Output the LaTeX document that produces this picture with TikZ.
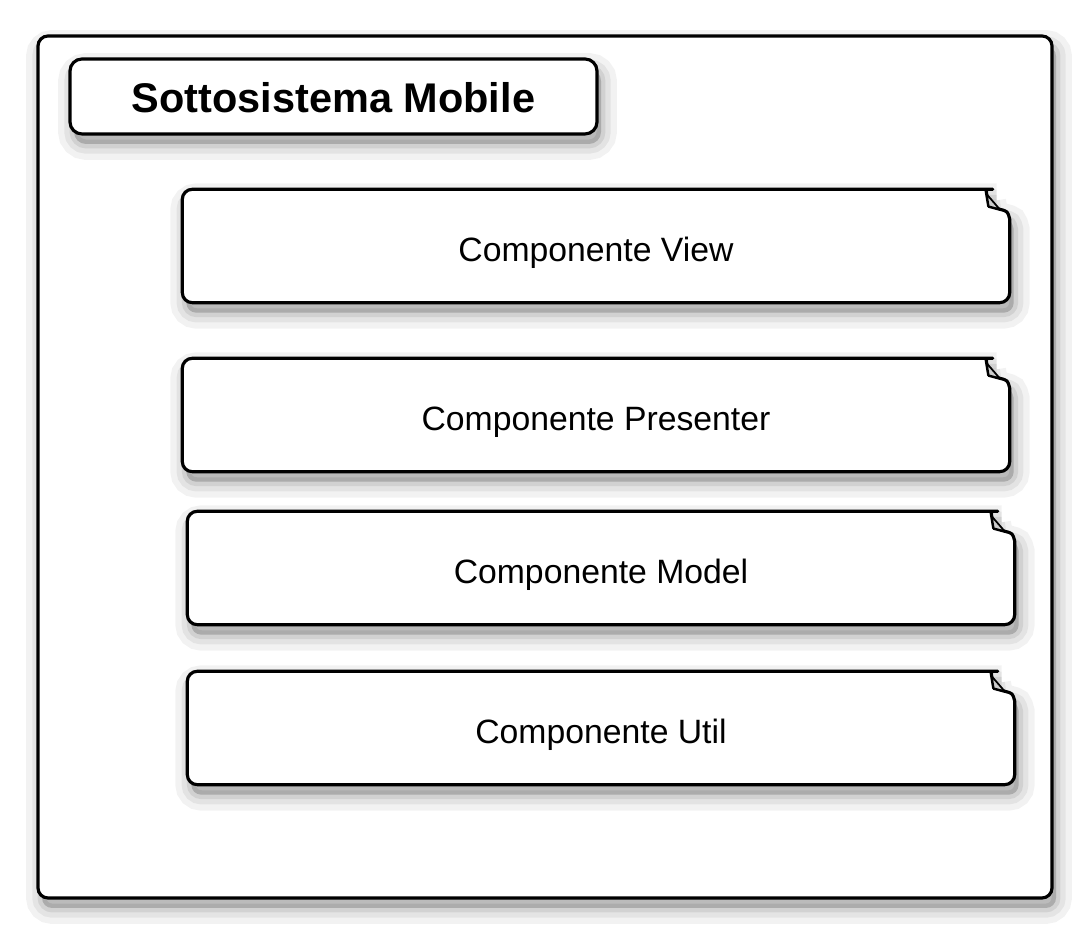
\documentclass[tikz,border=0pt]{standalone}
\usepackage{fontspec}
\setmainfont{Liberation Sans}
\usetikzlibrary{calc,backgrounds}

\tikzset{
  softshadow/.style={
    preaction={draw=black, fill=black, opacity=0.05, line width=9pt, transform canvas={shift={(0.04,-0.10)}}},
    preaction={draw=black, fill=black, opacity=0.06, line width=5.5pt, transform canvas={shift={(0.04,-0.10)}}},
    preaction={draw=black, fill=black, opacity=0.08, line width=2.5pt, transform canvas={shift={(0.04,-0.10)}}}},
  boxline/.style={softshadow, line width=0.9pt, draw=black, fill=white},
  panel/.style={boxline, rounded corners=0.1cm, minimum width=10.14cm, minimum height=8.62cm},
  titlebox/.style={boxline, rounded corners=0.12cm, minimum width=5.27cm, minimum height=0.75cm,
    text height=0.92em, text depth=0pt, font=\fontsize{11.8}{14}\selectfont\bfseries},
  comp/.style={minimum width=8.26cm, minimum height=1.12cm, text height=1.09em, text depth=0.21em,
    font=\fontsize{9.6}{11.5}\selectfont},
  fold/.style={fill=gray!40, draw=black, line width=0.5pt, line join=round}
}

\begin{document}
\begin{tikzpicture}
    \useasboundingbox (0,0) rectangle (10.88,9.36);

    % Components
    \node[comp] (view) at (5.96,6.90) {Componente View};
    \node[comp] (presenter) at (5.96,5.21) {Componente Presenter};
    \node[comp] (model) at (6.01,3.68) {Componente Model};
    \node[comp] (util) at (6.01,2.08) {Componente Util};

    \begin{pgfonlayer}{background}
        % Subsystem frame
        \node[panel] (mobile) at (5.45,4.69) {};
        % Component frames with folded corner
        \foreach \n in {view,presenter,model,util} {
            \draw[boxline, rounded corners=0.1cm, line join=round]
                ($(\n.north east)+(0,-0.30)$) -- (\n.south east) -- (\n.south west)
                -- (\n.north west) -- ($(\n.north east)+(-0.27,0)$) [sharp corners]
                .. controls ($(\n.north east)+(-0.24,0)$) .. ($(\n.north east)+(-0.23,-0.05)$)
                -- ($(\n.north east)+(-0.21,-0.17)$) -- ($(\n.north east)+(-0.10,-0.20)$)
                .. controls ($(\n.north east)+(-0.02,-0.22)$) .. cycle;
            \draw[fold] ($(\n.north east)+(-0.23,-0.05)$) -- ($(\n.north east)+(-0.21,-0.17)$)
                -- ($(\n.north east)+(-0.10,-0.20)$) -- cycle;
        }
    \end{pgfonlayer}

    % Title
    \node[titlebox] (title) at (3.335,8.395) {Sottosistema Mobile};
\end{tikzpicture}
\end{document}
